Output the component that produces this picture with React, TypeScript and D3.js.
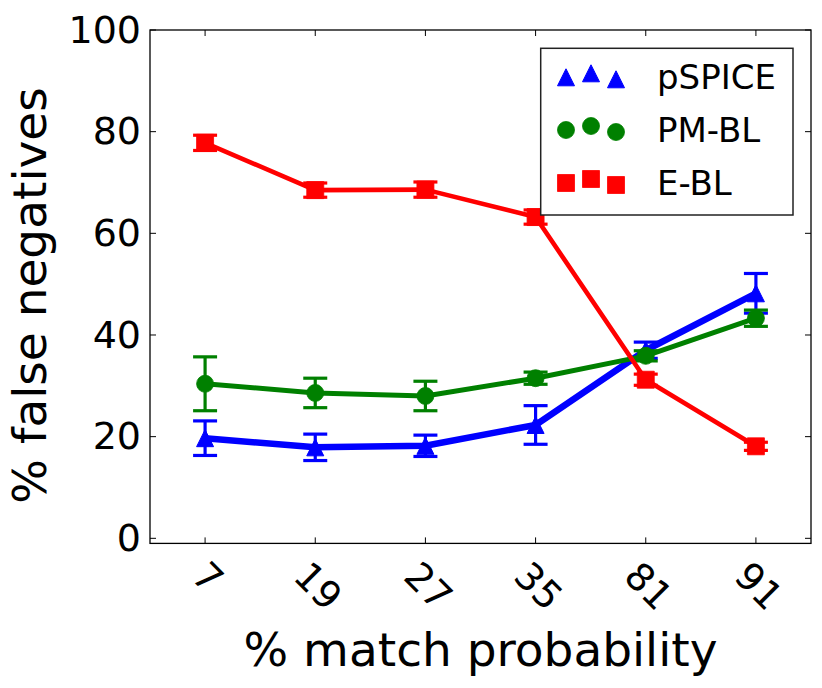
import React from 'react';
import * as d3 from 'd3';

const categories = ['7', '19', '27', '35', '81', '91'];
const pspice = [19.7, 17.9, 18.2, 22.3, 37.0, 48.2];
const pspiceErr = [3.4, 2.6, 2.1, 3.8, 1.6, 3.9];
const pmbl = [30.4, 28.6, 28.0, 31.5, 35.9, 43.3];
const pmblErr = [5.3, 2.9, 2.9, 1.2, 1.0, 1.6];
const ebl = [77.8, 68.5, 68.6, 63.2, 31.2, 18.1];
const eblErr = [1.5, 1.4, 1.5, 1.4, 1.1, 0.8];
const yTicks = [0, 20, 40, 60, 80, 100];
const seriesNames = ['pSPICE', 'PM-BL', 'E-BL'];
const legendYOffsets = [0.375, 0.5, 0.3125];

const W = 822;
const H = 688;
const left = 150, right = 811, top = 30, bottom = 543.4;
const FONT = 'DejaVu Sans, sans-serif';

type Series = { name: string; values: number[]; errs: number[]; color: string; lw: number; marker: 'tri' | 'circle' | 'square' };

const series: Series[] = [
  { name: seriesNames[0], values: pspice, errs: pspiceErr, color: '#0000ff', lw: 6.5, marker: 'tri' },
  { name: seriesNames[1], values: pmbl, errs: pmblErr, color: '#008000', lw: 5, marker: 'circle' },
  { name: seriesNames[2], values: ebl, errs: eblErr, color: '#ff0000', lw: 4.6, marker: 'square' },
];

function Marker({ kind, x, y, size, color }: { kind: string; x: number; y: number; size: number; color: string }) {
  const h = size / 2;
  if (kind === 'tri') {
    return <path d={`M${x},${y - h}L${x - h},${y + h}L${x + h},${y + h}Z`} fill={color} stroke={color} strokeWidth={1} strokeLinejoin="round" />;
  }
  if (kind === 'circle') {
    return <circle cx={x} cy={y} r={h} fill={color} stroke={color} strokeWidth={0.8} />;
  }
  return <rect x={x - h} y={y - h} width={size} height={size} fill={color} stroke={color} strokeWidth={0.8} strokeLinejoin="round" />;
}

export default function App() {
  const x = d3.scaleLinear().domain([-0.5, categories.length - 0.5]).range([left, right]);
  const y = d3.scaleLinear().domain([-1, 100]).range([bottom, top]);
  const tickLen = 6;
  const tickFont = 38;
  const idx = categories.map((_, i) => i);

  const line = d3
    .line<number>()
    .x((_, i) => x(i))
    .y((d) => y(d));

  const legX = 540.7, legY = 48.3, legW = 252.3, legH = 166.7;
  const rowBase = [89.3, 142, 195];
  const markerXs = [566, 591, 616];
  const handleH = 32;

  return (
    <svg width={W} height={H} style={{ position: 'absolute', left: 0, top: 0, display: 'block', background: '#fff' }} fontFamily={FONT}>
      <rect x={0} y={0} width={W} height={H} fill="#fff" />
      {/* ticks */}
      {idx.map((i) => (
        <g key={'xt' + i} stroke="#000" strokeWidth={1}>
          <line x1={x(i)} x2={x(i)} y1={bottom} y2={bottom - tickLen} />
          <line x1={x(i)} x2={x(i)} y1={top} y2={top + tickLen} />
        </g>
      ))}
      {yTicks.map((t) => (
        <g key={'yt' + t} stroke="#000" strokeWidth={1}>
          <line x1={left} x2={left + tickLen} y1={y(t)} y2={y(t)} />
          <line x1={right} x2={right - tickLen} y1={y(t)} y2={y(t)} />
        </g>
      ))}
      {/* series */}
      {series.map((s) => (
        <g key={s.name}>
          <path d={line(s.values) || ''} fill="none" stroke={s.color} strokeWidth={s.lw} strokeLinejoin="round" strokeLinecap="butt" />
          {s.values.map((v, i) => (
            <g key={i} stroke={s.color} strokeWidth={3.2}>
              <line x1={x(i)} x2={x(i)} y1={y(v - s.errs[i])} y2={y(v + s.errs[i])} />
              <line x1={x(i) - 12} x2={x(i) + 12} y1={y(v - s.errs[i])} y2={y(v - s.errs[i])} />
              <line x1={x(i) - 12} x2={x(i) + 12} y1={y(v + s.errs[i])} y2={y(v + s.errs[i])} />
            </g>
          ))}
          {s.values.map((v, i) => (
            <Marker key={'m' + i} kind={s.marker} x={x(i)} y={y(v)} size={17} color={s.color} />
          ))}
        </g>
      ))}
      {/* frame */}
      <rect x={left} y={top} width={right - left} height={bottom - top} fill="none" stroke="#000" strokeWidth={1.3} />
      {/* y tick labels */}
      {yTicks.map((t) => (
        <text key={'yl' + t} x={141} y={y(t) + 0.33 * tickFont} textAnchor="end" fontSize={tickFont} fill="#000">
          {t}
        </text>
      ))}
      {/* x tick labels, rotated */}
      {categories.map((c, i) => {
        const n = c.length;
        const bbox = (n * 0.636 * tickFont - 0.14 * tickFont + 0.73 * tickFont) / Math.SQRT2;
        const cy = 561 + bbox / 2;
        const cx = x(i) + 3;
        return (
          <text key={'xl' + c} transform={`translate(${cx},${cy}) rotate(45)`} textAnchor="middle" dy="0.35em" fontSize={tickFont} fill="#000">
            {c}
          </text>
        );
      })}
      {/* axis labels */}
      <text x={(left + right) / 2} y={666} textAnchor="middle" fontSize={47} fill="#000">
        % match probability
      </text>
      <text transform={`translate(46,${(88 + 503) / 2}) rotate(-90)`} textAnchor="middle" fontSize={47} fill="#000">
        % false negatives
      </text>
      {/* legend */}
      <rect x={legX} y={legY} width={legW} height={legH} fill="#fff" stroke="#222" strokeWidth={1.5} />
      {series.map((s, r) => (
        <g key={'lg' + s.name}>
          {markerXs.map((mx, k) => (
            <Marker key={k} kind={s.marker} x={mx} y={rowBase[r] - 4 - legendYOffsets[k] * handleH + 0.5 * handleH - 12} size={17} color={s.color} />
          ))}
          <text x={657} y={rowBase[r]} fontSize={34} fill="#000">
            {s.name}
          </text>
        </g>
      ))}
    </svg>
  );
}
